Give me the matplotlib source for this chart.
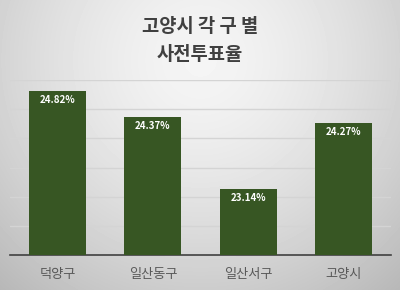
import matplotlib
matplotlib.use("Agg")
from matplotlib import pyplot as plt
import numpy as np

plt.rcParams['font.family'] = ['Noto Sans CJK KR', 'DejaVu Sans']

# data
districts = ["덕양구", "일산동구", "일산서구", "고양시"]
turnout = [24.82, 24.37, 23.14, 24.27]
y_ticks = [22.5, 23.0, 23.5, 24.0, 24.5, 25.0]
title = "고양시 각 구 별\n사전투표율"

bar_color = "#375623"

fig = plt.figure(figsize=(4.0, 2.9), dpi=100)

# radial grey background
bg = fig.add_axes([0, 0, 1, 1])
yy, xx = np.mgrid[0:290, 0:400]
dist = np.sqrt(((xx - 200) / 250.0) ** 2 + ((yy - 60) / 250.0) ** 2)
shade = np.clip(0.96 - 0.18 * dist ** 1.5, 0, 1)
bg.imshow(shade, cmap="gray", vmin=0, vmax=1, aspect="auto", extent=[0, 400, 290, 0])
bg.axis("off")

ax = fig.add_axes([0.025, 0.1207, 0.9525, 0.6034])
ax.patch.set_alpha(0)
x = np.arange(len(districts))
bars = ax.bar(x, turnout, width=0.6, color=bar_color, zorder=3)

ax.set_xlim(-0.5, len(districts) - 0.5)
ax.set_ylim(22.0, 25.0)
ax.set_yticks(y_ticks)
ax.yaxis.grid(True, color="#d4d4d4", linewidth=1.0, zorder=0)
ax.tick_params(axis="y", left=False, labelleft=False)
ax.tick_params(axis="x", bottom=False, labelsize=9.5, labelcolor="#595959", pad=6)
ax.set_xticks(x)
ax.set_xticklabels(districts)
for side in ["top", "left", "right"]:
    ax.spines[side].set_visible(False)
ax.spines["bottom"].set_color("#404040")
ax.spines["bottom"].set_linewidth(1.2)

for b, v in zip(bars, turnout):
    ax.text(b.get_x() + b.get_width() / 2, v - 0.08, f"{v:.2f}%",
            ha="center", va="top", color="white", fontsize=7, fontweight="bold", zorder=4)

fig.text(0.5, 0.862, title, ha="center", va="center", fontsize=13.5,
         fontweight="bold", color="#404040", linespacing=1.6)

fig.savefig("out.png", dpi=100)
